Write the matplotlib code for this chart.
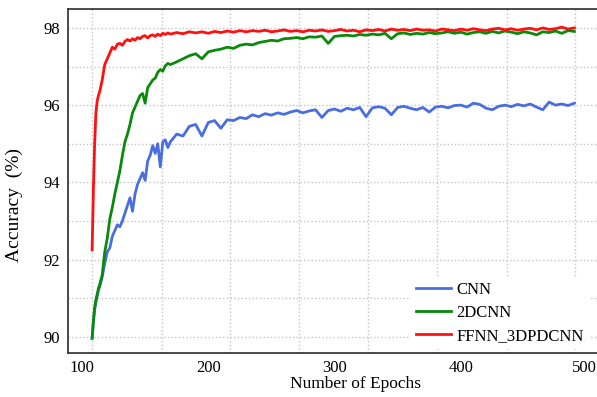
import numpy as np
import matplotlib
matplotlib.use("Agg")
import matplotlib.pyplot as plt
import matplotlib.transforms as mtransforms

### data ****************************************************************
epochs_early = [108, 109, 110, 111, 112, 113, 114, 116, 118, 120,
                122, 124, 126, 128, 130, 132, 134, 136, 138, 140,
                142, 144, 146, 148, 150, 152, 154, 156, 158, 160,
                162, 164, 166, 168, 170]
epochs_late = list(range(175, 491, 5))
epochs = epochs_early + epochs_late

cnn = [89.96, 90.4, 90.7, 90.9, 91.05, 91.2, 91.3, 91.55, 91.9, 92.2,
       92.3, 92.6, 92.75, 92.9, 92.85, 93.0, 93.2, 93.4, 93.6, 93.25,
       93.7, 93.95, 94.1, 94.25, 94.05, 94.55, 94.7, 94.95, 94.75, 95.0,
       94.4, 95.05, 95.1, 94.9, 95.05,
       95.25, 95.2, 95.45, 95.5, 95.2, 95.55, 95.6, 95.4,
       95.62, 95.6, 95.68, 95.65, 95.75, 95.7, 95.78, 95.74,
       95.8, 95.76, 95.82, 95.86, 95.8, 95.85, 95.88, 95.68,
       95.86, 95.9, 95.84, 95.92, 95.88, 95.94, 95.7, 95.93,
       95.96, 95.92, 95.75, 95.94, 95.97, 95.92, 95.88, 95.94,
       95.82, 95.95, 95.97, 95.93, 95.99, 96.0, 95.95, 96.05,
       96.02, 95.92, 95.88, 95.97, 96.0, 95.96, 96.02, 95.98,
       96.03, 95.95, 95.88, 96.08, 96.0, 96.03, 95.99, 96.05]

cnn2d = [89.96, 90.4, 90.75, 90.95, 91.1, 91.25, 91.35, 91.6, 92.2, 92.55,
         93.05, 93.35, 93.7, 94.0, 94.3, 94.7, 95.05, 95.25, 95.5, 95.8,
         95.95, 96.1, 96.25, 96.3, 96.05, 96.45, 96.55, 96.65, 96.7, 96.85,
         96.92, 96.88, 97.02, 97.08, 97.05,
         97.12, 97.2, 97.28, 97.33, 97.2, 97.38, 97.42, 97.45,
         97.5, 97.47, 97.55, 97.58, 97.56, 97.62, 97.65, 97.68,
         97.66, 97.72, 97.73, 97.75, 97.72, 97.77, 97.76, 97.79,
         97.6, 97.78, 97.8, 97.81, 97.79, 97.83, 97.81, 97.84,
         97.82, 97.86, 97.72, 97.85, 97.87, 97.83, 97.86, 97.84,
         97.88, 97.85, 97.87, 97.9, 97.86, 97.89, 97.84, 97.88,
         97.9, 97.86, 97.91, 97.87, 97.92, 97.89, 97.85, 97.9,
         97.87, 97.82, 97.9, 97.88, 97.92, 97.86, 97.93, 97.91]

ffnn = [92.25, 93.8, 95.0, 95.8, 96.1, 96.25, 96.35, 96.65, 97.05, 97.2,
        97.35, 97.5, 97.45, 97.58, 97.6, 97.55, 97.65, 97.7, 97.66, 97.72,
        97.68, 97.75, 97.72, 97.78, 97.8, 97.74, 97.8, 97.82, 97.78, 97.84,
        97.8, 97.86, 97.83, 97.87, 97.84,
        97.88, 97.85, 97.9, 97.87, 97.9, 97.86, 97.91, 97.88,
        97.92, 97.89, 97.93, 97.9, 97.93, 97.91, 97.94, 97.9,
        97.92, 97.95, 97.91, 97.93, 97.9, 97.94, 97.92, 97.95,
        97.91, 97.93, 97.96, 97.92, 97.94, 97.9, 97.95, 97.93,
        97.96, 97.92, 97.97, 97.94, 97.96, 97.93, 97.97, 97.94,
        97.95, 97.92, 97.97, 97.95, 97.93, 97.97, 97.94, 97.98,
        97.95, 97.93, 97.97, 97.99, 97.95, 97.98, 97.94, 97.97,
        97.99, 97.95, 98.0, 97.96, 97.98, 98.02, 97.97, 98.0]

x_ticks = [100, 200, 300, 400, 500]
y_ticks = [90, 92, 94, 96, 98]
# vertical grid lines in the source do not sit on the labelled ticks
x_grid = [108, 163, 217, 272, 326.5, 381, 436.5, 490.5]
y_grid = [91, 93, 95, 97]

### plot *****************************************************************
plt.rcParams['font.family'] = ['Liberation Serif', 'DejaVu Serif']

fig = plt.figure(figsize=(5.97, 3.97), dpi=100)
ax = fig.add_axes([68 / 597, 44 / 397, 532 / 597, 344 / 397])

ax.plot(epochs, cnn, color='#4a6ee0', lw=2.0, label='CNN')
ax.plot(epochs, cnn2d, color='#0a8a0a', lw=2.0, label='2DCNN')
ax.plot(epochs, ffnn, color='#ff1010', lw=2.0, label='FFNN_3DPDCNN')

ax.set_xlim(88.9, 510.3)
ax.set_ylim(89.58, 98.49)

ax.set_xticks(x_ticks)
ax.set_xticks(x_grid, minor=True)
ax.set_yticks(y_ticks)
ax.set_yticks(y_grid, minor=True)
ax.tick_params(which='both', length=0, labelsize=12)
ax.tick_params(axis='x', pad=5)
ax.tick_params(axis='y', pad=6)

# nudge the last x label so it stays inside the picture
last = ax.get_xticklabels()[-1]
last.set_transform(last.get_transform() +
                   mtransforms.ScaledTranslation(-3 / 100, 0, fig.dpi_scale_trans))

ax.grid(False, axis='x', which='major')
ax.grid(True, axis='x', which='minor', ls=':', color='#c4c4c4', lw=1)
ax.grid(True, axis='y', which='both', ls=':', color='#c4c4c4', lw=1)
ax.set_axisbelow(True)

for s in ['left', 'bottom', 'top']:
    ax.spines[s].set_color('#3c3c3c')
    ax.spines[s].set_linewidth(1.3)
ax.spines['right'].set_visible(False)

ax.set_xlabel('Number of Epochs', fontsize=12.5)
ax.xaxis.set_label_coords(0.541, -0.068)
ax.set_ylabel('Accuracy  (%)', fontsize=14)
ax.yaxis.set_label_coords(-0.085, 0.43)

leg = ax.legend(loc='upper left', bbox_to_anchor=(0.645, 0.22), fontsize=12,
                frameon=True, facecolor='white', edgecolor='none', framealpha=1,
                fancybox=False, handlelength=2.1, handletextpad=0.3,
                labelspacing=0.42, borderpad=0.3, borderaxespad=0)

fig.savefig('out.png', dpi=100)
